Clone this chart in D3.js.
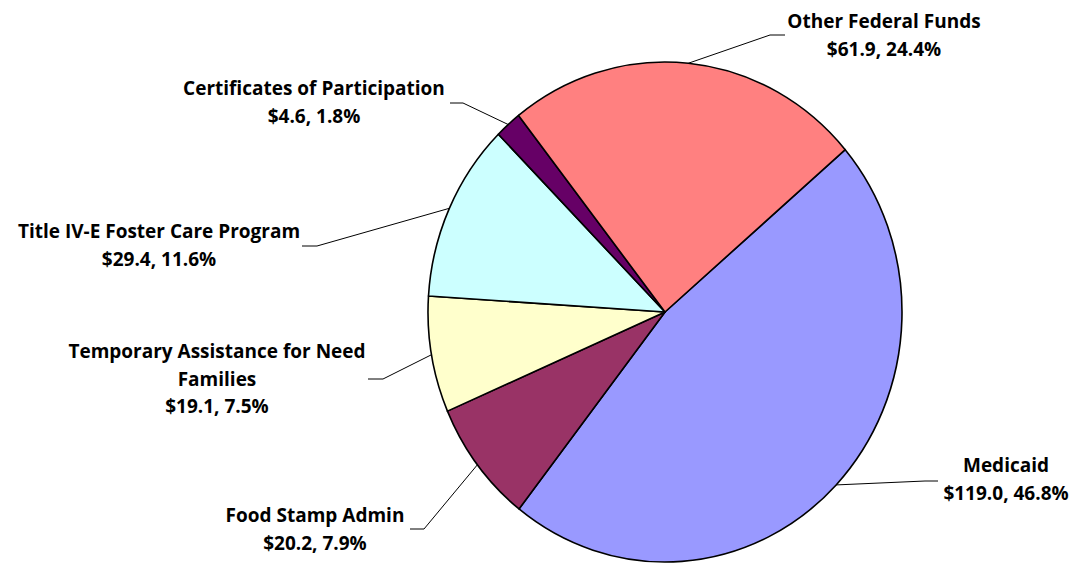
<!DOCTYPE html>
<html>
<head>
<meta charset="utf-8">
<script src="https://cdn.jsdelivr.net/npm/d3@7"></script>
<style>
  html, body { margin: 0; padding: 0; background: #fff; }
  svg text { font-family: "Open Sans", "DejaVu Sans", sans-serif; font-weight: 700; font-size: 19px; fill: #000; }
</style>
</head>
<body>
<svg id="chart" width="1075" height="563"></svg>
<script>
// Funding sources (millions of dollars), in drawing order clockwise
const categories = [
  "Medicaid",
  "Food Stamp Admin",
  "Temporary Assistance for Need Families",
  "Title IV-E Foster Care Program",
  "Certificates of Participation",
  "Other Federal Funds"
];
const amounts = [119.0, 20.2, 19.1, 29.4, 4.6, 61.9];
const sliceColors = ["#9999FF", "#993366", "#FFFFCC", "#CCFFFF", "#660066", "#FF8080"];

// Label text lines (category name may wrap)
const labelLines = [
  ["Medicaid"],
  ["Food Stamp Admin"],
  ["Temporary Assistance for Need", "Families"],
  ["Title IV-E Foster Care Program"],
  ["Certificates of Participation"],
  ["Other Federal Funds"]
];

// Label placement: text centre x, first baseline y, leader elbow and end
const labelLayout = [
  { tx: 1006, ty: 472, ex: 925, ey: 481, hx: 938 },
  { tx: 315,  ty: 522, ex: 424, ey: 529, hx: 410 },
  { tx: 217,  ty: 358, ex: 383, ey: 379, hx: 368 },
  { tx: 159,  ty: 238, ex: 317, ey: 246, hx: 302 },
  { tx: 314,  ty: 95,  ex: 463, ey: 103, hx: 450 },
  { tx: 884,  ty: 28,  ex: 770, ey: 35,  hx: 785 }
];

const cx = 665, cy = 312, rx = 237, ry = 250;
const lineGap = 27.5;
const start = 49.5 * Math.PI / 180;

const svg = d3.select("#chart");
const total = d3.sum(amounts);
const fmtMoney = d3.format("$.1f");
const fmtPct = d3.format(".1%");

const data = categories.map((c, i) => ({ name: c, value: amounts[i], i }));

const pie = d3.pie().sort(null).value(d => d.value)
  .startAngle(start).endAngle(start + 2 * Math.PI);
const arcs = pie(data);

const arc = d3.arc().innerRadius(0).outerRadius(ry);

const pieG = svg.append("g")
  .attr("transform", `translate(${cx},${cy}) scale(${rx / ry},1)`);

pieG.selectAll("path")
  .data(arcs)
  .join("path")
  .attr("d", arc)
  .attr("fill", d => sliceColors[d.data.i])
  .attr("stroke", "#000")
  .attr("stroke-width", 1.6)
  .attr("stroke-linejoin", "round")
  .attr("vector-effect", "non-scaling-stroke");

// Leader lines from the rim at each slice's mid-angle
const rimPoint = a => [cx + Math.sin(a) * rx, cy - Math.cos(a) * ry];

svg.append("g").selectAll("path")
  .data(arcs)
  .join("path")
  .attr("d", d => {
    const L = labelLayout[d.data.i];
    const p = rimPoint((d.startAngle + d.endAngle) / 2);
    return d3.line()([p, [L.ex, L.ey], [L.hx, L.ey]]);
  })
  .attr("fill", "none")
  .attr("stroke", "#000")
  .attr("stroke-width", 1);

// Labels: name lines then "$value, pct%"
const labels = svg.append("g").selectAll("text")
  .data(arcs)
  .join("text")
  .attr("text-anchor", "middle");

labels.each(function(d) {
  const L = labelLayout[d.data.i];
  const lines = labelLines[d.data.i].concat(
    `${fmtMoney(d.data.value)}, ${fmtPct(d.data.value / total)}`);
  d3.select(this).selectAll("tspan")
    .data(lines)
    .join("tspan")
    .attr("x", L.tx)
    .attr("y", (t, k) => L.ty + k * lineGap)
    .text(t => t);
});
</script>
</body>
</html>
